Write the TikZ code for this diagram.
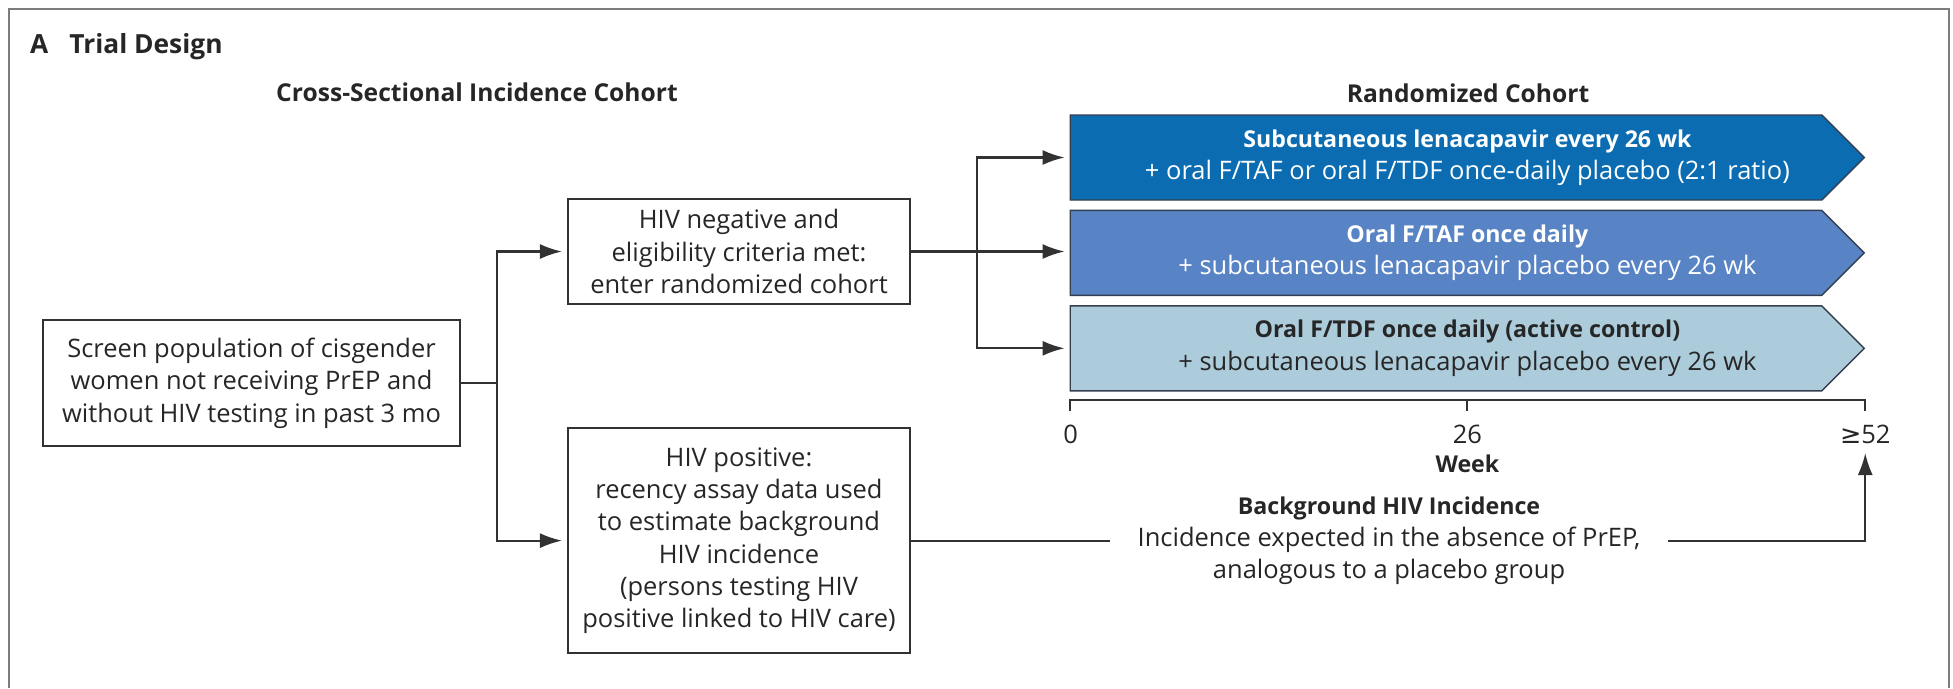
\documentclass[tikz,border=0pt]{standalone}
\usepackage{fontspec}
\setmainfont{Open Sans}
\newfontfamily\symfont{DejaVu Sans}
\usetikzlibrary{arrows.meta, positioning, shapes.symbols, calc}
\definecolor{ink}{RGB}{38,38,38}
\definecolor{boxline}{RGB}{50,50,50}
\definecolor{frameline}{RGB}{125,125,125}
\definecolor{armdark}{RGB}{11,108,178}
\definecolor{armmid}{RGB}{88,131,197}
\definecolor{armlight}{RGB}{172,203,219}
\definecolor{armedge}{RGB}{52,62,78}

\begin{document}
\begin{tikzpicture}[
    font=\fontsize{14.5}{18.4}\selectfont,
    node distance=0.18cm,
    box/.style={draw=boxline, line width=1.2pt, align=center, text=ink, inner sep=3pt},
    arm/.style={signal, signal to=east, signal pointer angle=90, draw=armedge,
                line width=0.8pt, minimum width=15.88cm, minimum height=1.7cm,
                inner sep=0pt},
    armtext/.style={align=center, inner sep=0pt},
    arr/.style={-{Latex[length=4.4mm, width=3mm]}, line width=1.2pt, draw=boxline,
                shorten >=0.1cm},
    ln/.style={line width=1.2pt, draw=boxline},
    hdr/.style={font=\fontsize{14}{16}\selectfont\bfseries, text=ink},
    tick/.style={text=ink, inner sep=2pt},
]
\useasboundingbox (0,0) rectangle (39.06,-13.76);
\draw[line width=1.4pt, frameline] (0.18,-13.76) |- (38.98,-0.18) -- (38.98,-13.76);

% headings
\node[anchor=base west, font=\fontsize{15}{18}\selectfont\bfseries, text=ink] (title)
    at (0.48,-1.06) {A\hspace{0.42cm}Trial Design};
\node[hdr] (hcross) at (9.54,-1.84) {Cross-Sectional Incidence Cohort};
\node[hdr] (hrand) at (29.36,-1.86) {Randomized Cohort};

% cross-sectional cohort
\node[box, minimum width=8.34cm, minimum height=2.52cm] (screen) at (5.03,-7.66)
    {Screen population of cisgender\\women not receiving PrEP and\\without HIV testing in past 3 mo};
\node[box, minimum width=6.84cm, minimum height=2.1cm] (neg) at (14.78,-5.03)
    {HIV negative and\\eligibility criteria met:\\enter randomized cohort};
\node[box, minimum width=6.84cm, minimum height=4.5cm, below=2.44cm of neg] (pos)
    {HIV positive:\\recency assay data used\\to estimate background\\HIV incidence\\(persons testing HIV\\positive linked to HIV care)};

% randomized arms
\node[arm, fill=armdark] (armlen) at (28.92,-3.15) {};
\node[arm, fill=armmid, below=of armlen] (armtaf) {};
\node[arm, fill=armlight, below=of armtaf] (armtdf) {};
\node[armtext, text=white] (lentext) at ($(armlen.west)!0.5!(armlen.east)$)
    {{\fontsize{13.2}{18.4}\selectfont\bfseries Subcutaneous lenacapavir every 26 wk}\\+ oral F/TAF or oral F/TDF once-daily placebo (2:1 ratio)};
\node[armtext, text=white] (taftext) at ($(armtaf.west)!0.5!(armtaf.east)$)
    {{\fontsize{13.2}{18.4}\selectfont\bfseries Oral F/TAF once daily}\\+ subcutaneous lenacapavir placebo every 26 wk};
\node[armtext, text=ink] (tdftext) at ($(armtdf.west)!0.5!(armtdf.east)$)
    {{\fontsize{13.2}{18.4}\selectfont\bfseries Oral F/TDF once daily (active control)}\\+ subcutaneous lenacapavir placebo every 26 wk};

% week axis
\coordinate (w0) at ($(armtdf.west)+(0,-1.03)$);
\coordinate (w52) at (armtdf.east |- w0);
\coordinate (w26) at ($(w0)!0.5!(w52)$);
\draw[ln] ($(w0)+(0,-0.22)$) -- (w0) -- (w52) -- ++(0,-0.22);
\draw[ln] (w26) -- ++(0,-0.22);
\node[tick] (l0) at ($(w0)+(0.02,-0.7)$) {0};
\node[tick] (l26) at ($(w26)+(0,-0.7)$) {26};
\node[tick] (l52) at ($(w52)+(0,-0.7)$) {{\symfont ≥}52};
\node[hdr, font=\fontsize{13.2}{16}\selectfont\bfseries] (week) at ($(w26)+(0,-1.28)$) {Week};

% connectors
\draw[ln] (screen.east) -- ++(0.72,0) coordinate (split);
\draw[arr] (split) |- (neg.west);
\draw[arr] (split) |- (pos.west);
\draw[arr] (neg.east) -- (neg.east -| armtaf.west);
\coordinate (fork) at ($(neg.east)+(1.32,0)$);
\draw[arr] (fork) |- (armlen.west);
\draw[arr] (fork) |- (armtdf.west);
\draw[arr] (pos.east) -| (l52.south);

\node[fill=white, align=center, text=ink, inner xsep=0.55cm] (bg) at (pos.east -| 27.78,0)
    {{\fontsize{13.2}{18.4}\selectfont\bfseries Background HIV Incidence}\\Incidence expected in the absence of PrEP,\\analogous to a placebo group};
\end{tikzpicture}
\end{document}
